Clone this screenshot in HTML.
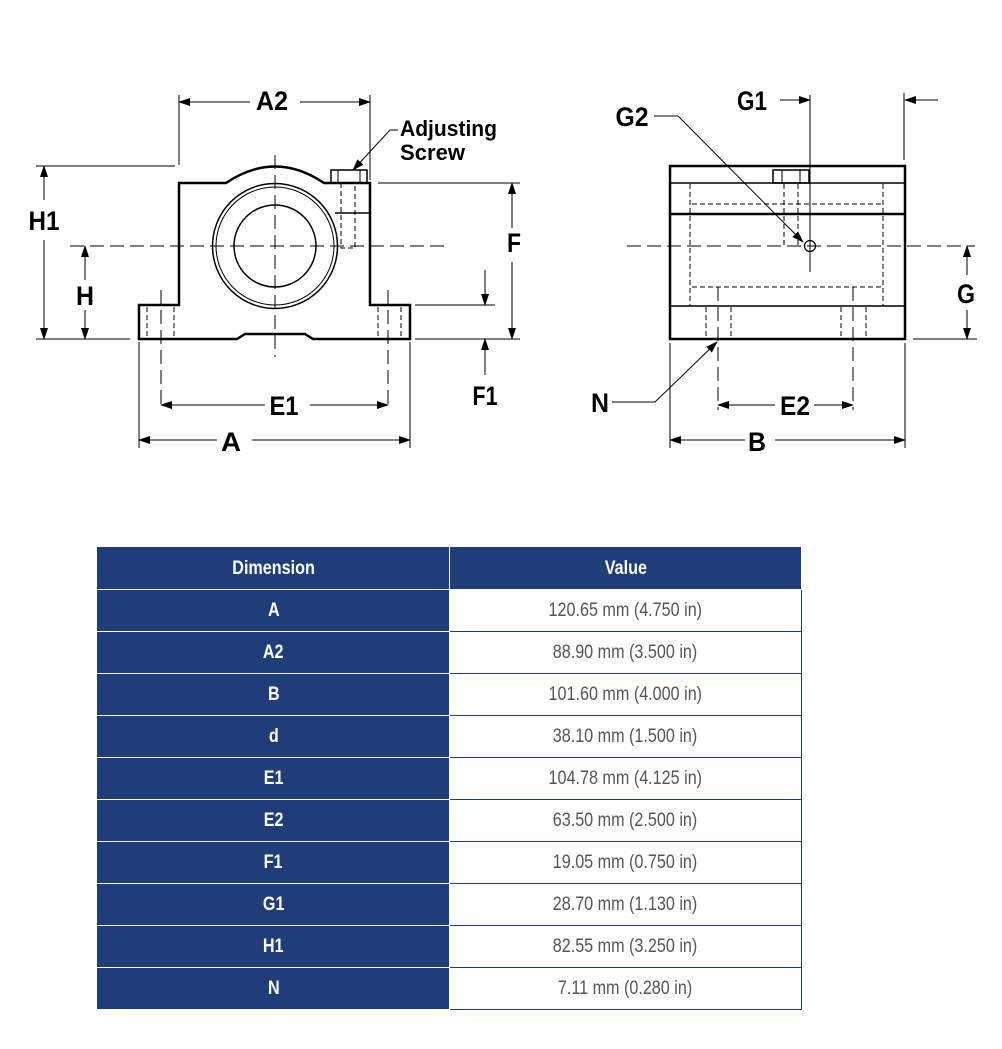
<!DOCTYPE html>
<html><head><meta charset="utf-8"><style>
body{margin:0;background:#fff;width:1002px;height:1049px;overflow:hidden;position:relative;font-family:"Liberation Sans",sans-serif}
svg{position:absolute;left:0;top:0}
table{position:absolute;left:97px;top:547px;border-collapse:collapse;width:705px}
td{height:41px;border:1px solid #1f3e77;text-align:center;font-size:19px;padding:0}
td span{display:inline-block;transform:scaleX(0.85)}
td.k{background:#1f3e77;color:#fff;font-weight:bold;width:351px;border-color:#fff #fff #fff #1f3e77}
td.v{color:#555;background:#fff}
tr.h td{background:#1f3e77;color:#fff;font-weight:bold;border-color:#1f3e77 #fff #fff #1f3e77}
</style></head><body>
<svg width="1002" height="520" viewBox="0 0 1002 520">
<defs><marker id="a" markerWidth="12" markerHeight="8" refX="11" refY="4" orient="auto" markerUnits="userSpaceOnUse"><path d="M0,0L12,4L0,8z" fill="#000"/></marker></defs>
<g stroke="#000" fill="none" stroke-width="1">
<line x1="70" y1="246" x2="450" y2="246" stroke-dasharray="14,6"/>
<line x1="275" y1="155" x2="275" y2="357" stroke-dasharray="14,6"/>
<path d="M179,305V183H226Q275,150 324,183H370V305H410V339H313L305,334H245L237,339H139V305Z" stroke-width="2.5"/>
<circle cx="275" cy="246" r="62.5" stroke-width="1.5"/>
<circle cx="275" cy="246" r="59"/>
<circle cx="275" cy="246" r="41" stroke-width="1.5"/>
<rect x="331" y="170" width="36" height="13" stroke-width="1.5"/>
<line x1="338" y1="170" x2="338" y2="183"/><line x1="360" y1="170" x2="360" y2="183"/>
<line x1="335" y1="213" x2="370" y2="213" stroke-width="1.5"/>
<path d="M341,183V248H355V183" stroke-dasharray="5,3"/>
<path d="M147,307V339M174,307V339M378,307V339M401,307V339" stroke-dasharray="5,3"/>
<line x1="161" y1="290" x2="161" y2="410" stroke-dasharray="14,6"/>
<line x1="388" y1="290" x2="388" y2="410" stroke-dasharray="14,6"/>
<line x1="36" y1="166" x2="175" y2="166"/><line x1="36" y1="339" x2="130" y2="339"/>
<line x1="44" y1="200" x2="44" y2="166" marker-end="url(#a)"/><line x1="44" y1="240" x2="44" y2="339" marker-end="url(#a)"/>
<line x1="85" y1="280" x2="85" y2="246" marker-end="url(#a)"/><line x1="85" y1="310" x2="85" y2="339" marker-end="url(#a)"/>
<line x1="179" y1="95" x2="179" y2="165"/><line x1="370" y1="95" x2="370" y2="180"/>
<line x1="250" y1="102" x2="179" y2="102" marker-end="url(#a)"/><line x1="300" y1="102" x2="370" y2="102" marker-end="url(#a)"/>
<line x1="378" y1="183" x2="520" y2="183"/><line x1="415" y1="339" x2="520" y2="339"/><line x1="415" y1="305" x2="495" y2="305"/>
<line x1="512" y1="228" x2="512" y2="183" marker-end="url(#a)"/><line x1="512" y1="262" x2="512" y2="339" marker-end="url(#a)"/>
<line x1="485" y1="270" x2="485" y2="305" marker-end="url(#a)"/><line x1="485" y1="375" x2="485" y2="339" marker-end="url(#a)"/>
<line x1="265" y1="405" x2="161" y2="405" marker-end="url(#a)"/><line x1="310" y1="405" x2="388" y2="405" marker-end="url(#a)"/>
<line x1="139" y1="342" x2="139" y2="448"/><line x1="410" y1="342" x2="410" y2="448"/>
<line x1="217" y1="440" x2="139" y2="440" marker-end="url(#a)"/><line x1="252" y1="440" x2="410" y2="440" marker-end="url(#a)"/>
<path d="M398,130H390L353,170" marker-end="url(#a)"/>
<rect x="670" y="166" width="235" height="173" stroke-width="2.5"/>
<line x1="670" y1="183" x2="905" y2="183" stroke-width="1.5"/>
<line x1="670" y1="214" x2="905" y2="214" stroke-width="2.5"/>
<line x1="670" y1="306" x2="905" y2="306" stroke-width="1.5"/>
<rect x="773" y="170" width="36" height="13" stroke-width="1.5"/>
<line x1="782" y1="170" x2="782" y2="183"/><line x1="800" y1="170" x2="800" y2="183"/>
<path d="M690,184V306M883,184V306M692,204H883M692,287H883M784,184V246M798,184V246" stroke-dasharray="5,3"/>
<path d="M706,307V339M731,307V339M841,307V339M866,307V339" stroke-dasharray="5,3"/>
<line x1="627" y1="246" x2="975" y2="246" stroke-dasharray="14,6"/>
<circle cx="810" cy="246" r="5.5" stroke-width="1.2"/>
<line x1="810" y1="95" x2="810" y2="272"/>
<line x1="718" y1="287" x2="718" y2="410" stroke-dasharray="14,6"/>
<line x1="853" y1="287" x2="853" y2="410" stroke-dasharray="14,6"/>
<line x1="780" y1="100" x2="810" y2="100" marker-end="url(#a)"/>
<line x1="904" y1="93" x2="904" y2="160"/><line x1="938" y1="100" x2="905" y2="100" marker-end="url(#a)"/>
<path d="M654,116H678L803,242" marker-end="url(#a)"/>
<line x1="913" y1="339" x2="977" y2="339"/>
<line x1="967" y1="275" x2="967" y2="246" marker-end="url(#a)"/><line x1="967" y1="310" x2="967" y2="339" marker-end="url(#a)"/>
<path d="M612,402H655L717,342" marker-end="url(#a)"/>
<line x1="775" y1="405" x2="718" y2="405" marker-end="url(#a)"/><line x1="814" y1="405" x2="853" y2="405" marker-end="url(#a)"/>
<line x1="670" y1="343" x2="670" y2="448"/><line x1="905" y1="343" x2="905" y2="448"/>
<line x1="745" y1="440" x2="670" y2="440" marker-end="url(#a)"/><line x1="775" y1="440" x2="905" y2="440" marker-end="url(#a)"/>
</g>
<g font-family="'Liberation Sans',sans-serif" font-weight="bold" font-size="27" text-anchor="middle" fill="#000" lengthAdjust="spacingAndGlyphs">
<text x="272" y="110" textLength="32" lengthAdjust="spacingAndGlyphs">A2</text>
<text x="44" y="230" textLength="31" lengthAdjust="spacingAndGlyphs">H1</text>
<text x="85" y="305" textLength="18" lengthAdjust="spacingAndGlyphs">H</text>
<text x="514" y="252" textLength="14" lengthAdjust="spacingAndGlyphs">F</text>
<text x="485" y="405" textLength="25" lengthAdjust="spacingAndGlyphs">F1</text>
<text x="284" y="415" textLength="29" lengthAdjust="spacingAndGlyphs">E1</text>
<text x="231" y="451" textLength="20" lengthAdjust="spacingAndGlyphs">A</text>
<text x="752" y="110" textLength="30" lengthAdjust="spacingAndGlyphs">G1</text>
<text x="632" y="126" textLength="33" lengthAdjust="spacingAndGlyphs">G2</text>
<text x="966" y="303" textLength="18" lengthAdjust="spacingAndGlyphs">G</text>
<text x="600" y="412" textLength="18" lengthAdjust="spacingAndGlyphs">N</text>
<text x="795" y="415" textLength="30" lengthAdjust="spacingAndGlyphs">E2</text>
<text x="757" y="451" textLength="18" lengthAdjust="spacingAndGlyphs">B</text>
<text x="400" y="136" text-anchor="start" font-size="22" textLength="97" lengthAdjust="spacingAndGlyphs">Adjusting</text>
<text x="400" y="160" text-anchor="start" font-size="22" textLength="65" lengthAdjust="spacingAndGlyphs">Screw</text>
</g>
</svg>
<table>
<tr class="h"><td style="width:351px"><span>Dimension</span></td><td><span>Value</span></td></tr>
<tr><td class="k"><span>A</span></td><td class="v"><span>120.65 mm (4.750 in)</span></td></tr>
<tr><td class="k"><span>A2</span></td><td class="v"><span>88.90 mm (3.500 in)</span></td></tr>
<tr><td class="k"><span>B</span></td><td class="v"><span>101.60 mm (4.000 in)</span></td></tr>
<tr><td class="k"><span>d</span></td><td class="v"><span>38.10 mm (1.500 in)</span></td></tr>
<tr><td class="k"><span>E1</span></td><td class="v"><span>104.78 mm (4.125 in)</span></td></tr>
<tr><td class="k"><span>E2</span></td><td class="v"><span>63.50 mm (2.500 in)</span></td></tr>
<tr><td class="k"><span>F1</span></td><td class="v"><span>19.05 mm (0.750 in)</span></td></tr>
<tr><td class="k"><span>G1</span></td><td class="v"><span>28.70 mm (1.130 in)</span></td></tr>
<tr><td class="k"><span>H1</span></td><td class="v"><span>82.55 mm (3.250 in)</span></td></tr>
<tr><td class="k"><span>N</span></td><td class="v"><span>7.11 mm (0.280 in)</span></td></tr>
</table>
</body></html>
